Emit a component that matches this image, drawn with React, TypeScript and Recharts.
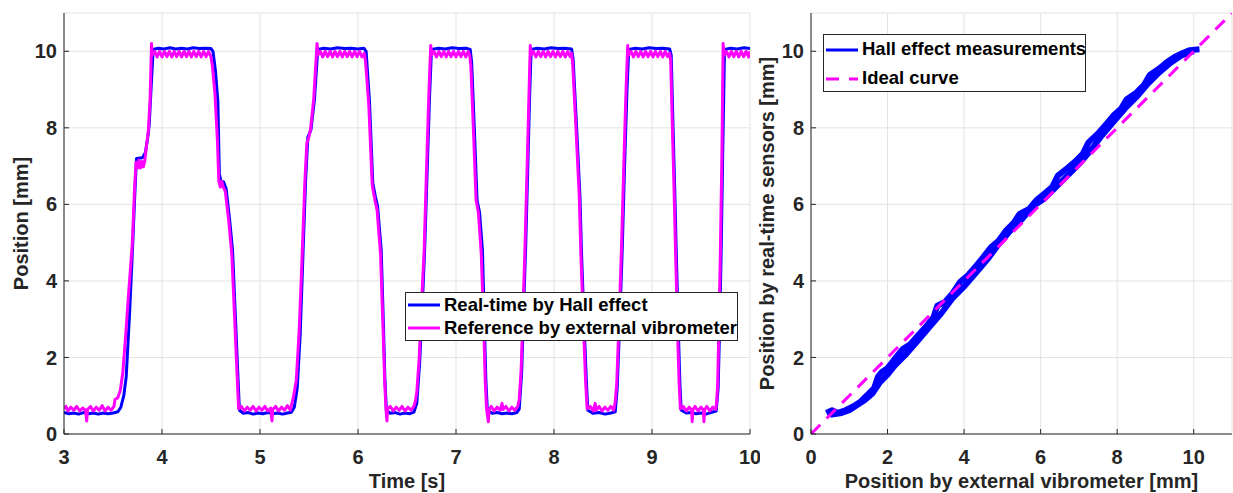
import { CartesianGrid, Legend, Line, LineChart, XAxis, YAxis } from "recharts"

const FONT = "'Liberation Sans', Arial, Helvetica, sans-serif"
const INK = "#262626"
const GRID = "#e3e3e3"
const BLUE = "#0000ff"
const MAGENTA = "#ff00ff"

const timeTicks = [3, 4, 5, 6, 7, 8, 9, 10]
const posTicks = [0, 2, 4, 6, 8, 10]

// [time s, position mm] - real-time Hall effect trace
const hallTrace = [
  [3.0, 0.56], [3.05, 0.53], [3.1, 0.55], [3.15, 0.52], [3.2, 0.56], [3.25, 0.53], [3.3, 0.55], [3.35, 0.52], [3.4, 0.55], [3.45, 0.53], [3.5, 0.55],
  [3.55, 0.58], [3.58, 0.7], [3.61, 1.0], [3.635, 1.5], [3.67, 3.2], [3.7, 4.9], [3.725, 6.4], [3.74, 7.2], [3.8, 7.22], [3.83, 7.35], [3.855, 7.75], [3.87, 8.1], [3.89, 9.1], [3.91, 10.05],
  [3.96, 10.08], [4.02, 10.06], [4.08, 10.09], [4.14, 10.06], [4.2, 10.08], [4.26, 10.06], [4.32, 10.09], [4.38, 10.07], [4.44, 10.08], [4.5, 10.07],
  [4.52, 10.0], [4.545, 9.5], [4.57, 8.7], [4.585, 6.8], [4.6, 6.62], [4.63, 6.58], [4.655, 6.4], [4.69, 5.6], [4.72, 4.8], [4.75, 3.0], [4.775, 1.5], [4.79, 0.62],
  [4.83, 0.54], [4.88, 0.56], [4.93, 0.52], [4.98, 0.55], [5.03, 0.53], [5.08, 0.56], [5.13, 0.53], [5.18, 0.55], [5.23, 0.52], [5.28, 0.55], [5.32, 0.57],
  [5.35, 0.7], [5.38, 1.2], [5.41, 2.6], [5.44, 4.8], [5.465, 6.6], [5.488, 7.75], [5.52, 7.95], [5.556, 8.75], [5.575, 9.5], [5.59, 10.05],
  [5.65, 10.08], [5.72, 10.06], [5.79, 10.09], [5.86, 10.07], [5.93, 10.08], [6.0, 10.06], [6.06, 10.08],
  [6.083, 10.0], [6.117, 8.7], [6.151, 6.55], [6.178, 6.2], [6.2, 5.95], [6.237, 4.8], [6.26, 2.8], [6.275, 1.4], [6.29, 0.62],
  [6.33, 0.54], [6.38, 0.56], [6.43, 0.52], [6.48, 0.55], [6.53, 0.53], [6.57, 0.57],
  [6.6, 0.8], [6.63, 1.9], [6.66, 3.6], [6.68, 4.8], [6.71, 7.2], [6.73, 8.8], [6.75, 10.05],
  [6.82, 10.08], [6.89, 10.06], [6.96, 10.09], [7.03, 10.07], [7.1, 10.08], [7.145, 10.05],
  [7.16, 9.7], [7.19, 7.8], [7.215, 6.1], [7.24, 5.8], [7.27, 4.8], [7.29, 2.8], [7.305, 1.4], [7.32, 0.62],
  [7.37, 0.54], [7.42, 0.56], [7.47, 0.53], [7.52, 0.55], [7.57, 0.53], [7.62, 0.56],
  [7.645, 0.65], [7.67, 1.6], [7.69, 3.3], [7.71, 4.8], [7.735, 7.2], [7.752, 8.9], [7.767, 10.05],
  [7.83, 10.08], [7.9, 10.06], [7.97, 10.09], [8.04, 10.07], [8.11, 10.08], [8.18, 10.06],
  [8.195, 9.8], [8.225, 8.3], [8.25, 7.0], [8.265, 6.2], [8.28, 4.8], [8.305, 3.0], [8.33, 1.4], [8.345, 0.62],
  [8.4, 0.54], [8.46, 0.56], [8.52, 0.52], [8.58, 0.55], [8.625, 0.58],
  [8.645, 1.2], [8.67, 2.9], [8.696, 4.8], [8.72, 7.0], [8.745, 9.0], [8.763, 10.05],
  [8.83, 10.08], [8.9, 10.06], [8.97, 10.09], [9.04, 10.07], [9.11, 10.08], [9.18, 10.06],
  [9.196, 9.9], [9.215, 8.0], [9.232, 6.4], [9.247, 4.8], [9.27, 2.6], [9.285, 1.3], [9.298, 0.62],
  [9.35, 0.55], [9.4, 0.56], [9.45, 0.53], [9.5, 0.55], [9.55, 0.52], [9.6, 0.56], [9.655, 0.6],
  [9.675, 1.2], [9.69, 2.8], [9.706, 4.8], [9.722, 7.4], [9.74, 10.05],
  [9.8, 10.08], [9.87, 10.06], [9.94, 10.09], [10.0, 10.07],
]

// [time s, position mm] - reference by external vibrometer
const refTrace = [
  [3.0, 0.66], [3.02, 0.72], [3.04, 0.6], [3.07, 0.7], [3.1, 0.62], [3.13, 0.72], [3.16, 0.6], [3.19, 0.68], [3.22, 0.62], [3.232, 0.34], [3.24, 0.64],
  [3.27, 0.72], [3.3, 0.6], [3.33, 0.7], [3.36, 0.62], [3.39, 0.74], [3.42, 0.6], [3.45, 0.7], [3.48, 0.62], [3.51, 0.72],
  [3.52, 0.9], [3.55, 0.95], [3.575, 1.15], [3.6, 1.6], [3.63, 2.6], [3.66, 3.7], [3.695, 4.9], [3.72, 6.4], [3.735, 7.1], [3.75, 6.95], [3.765, 7.15],
  [3.78, 6.95], [3.795, 7.12], [3.81, 6.98], [3.825, 7.15], [3.84, 7.5], [3.86, 7.9], [3.878, 8.7], [3.893, 10.2], [3.9, 9.9],
  [3.925, 10.0], [3.95, 9.85], [3.975, 10.0], [4.0, 9.85], [4.025, 10.0], [4.05, 9.86], [4.075, 10.0], [4.1, 9.85], [4.125, 10.0], [4.15, 9.86],
  [4.175, 10.0], [4.2, 9.85], [4.225, 10.0], [4.25, 9.86], [4.275, 10.0], [4.3, 9.85], [4.325, 10.0], [4.35, 9.86], [4.375, 10.0], [4.4, 9.85],
  [4.425, 10.0], [4.45, 9.86], [4.475, 10.0], [4.5, 9.85],
  [4.515, 9.6], [4.54, 8.9], [4.565, 7.7], [4.58, 6.6], [4.595, 6.45], [4.61, 6.6], [4.625, 6.45], [4.645, 6.35], [4.68, 5.6], [4.712, 4.7], [4.74, 3.1], [4.765, 1.6], [4.782, 0.66],
  [4.81, 0.72], [4.84, 0.6], [4.87, 0.7], [4.9, 0.62], [4.93, 0.72], [4.96, 0.6], [4.99, 0.7], [5.02, 0.62], [5.05, 0.72], [5.08, 0.6], [5.11, 0.68],
  [5.122, 0.34], [5.13, 0.64], [5.16, 0.72], [5.19, 0.6], [5.22, 0.7], [5.25, 0.62], [5.28, 0.74], [5.31, 0.62], [5.325, 0.8],
  [5.34, 0.95], [5.37, 1.4], [5.4, 2.7], [5.432, 4.8], [5.458, 6.6], [5.478, 7.6], [5.495, 7.72], [5.515, 7.95], [5.548, 8.75], [5.568, 9.6], [5.582, 10.2], [5.592, 9.9],
  [5.615, 10.0], [5.64, 9.85], [5.665, 10.0], [5.69, 9.86], [5.715, 10.0], [5.74, 9.85], [5.765, 10.0], [5.79, 9.86], [5.815, 10.0], [5.84, 9.85],
  [5.865, 10.0], [5.89, 9.86], [5.915, 10.0], [5.94, 9.85], [5.965, 10.0], [5.99, 9.86], [6.015, 10.0], [6.04, 9.85], [6.065, 9.95],
  [6.078, 9.7], [6.11, 8.6], [6.145, 6.5], [6.172, 6.12], [6.195, 5.85], [6.23, 4.7], [6.255, 2.8], [6.272, 1.4], [6.285, 0.66], [6.295, 0.34], [6.302, 0.66],
  [6.33, 0.72], [6.36, 0.6], [6.39, 0.7], [6.42, 0.62], [6.45, 0.72], [6.48, 0.6], [6.51, 0.7], [6.54, 0.62], [6.57, 0.72],
  [6.585, 0.85], [6.6, 1.1], [6.625, 2.0], [6.65, 3.5], [6.675, 4.8], [6.7, 7.0], [6.722, 8.8], [6.742, 10.15], [6.752, 9.9],
  [6.775, 10.0], [6.8, 9.85], [6.825, 10.0], [6.85, 9.86], [6.875, 10.0], [6.9, 9.85], [6.925, 10.0], [6.95, 9.86], [6.975, 10.0], [7.0, 9.85],
  [7.025, 10.0], [7.05, 9.86], [7.075, 10.0], [7.1, 9.85], [7.125, 10.0], [7.14, 9.9],
  [7.152, 9.6], [7.18, 7.8], [7.205, 6.1], [7.228, 5.8], [7.258, 4.7], [7.283, 2.8], [7.298, 1.4], [7.312, 0.66], [7.33, 0.32], [7.338, 0.64],
  [7.36, 0.72], [7.39, 0.6], [7.42, 0.7], [7.45, 0.62], [7.47, 0.8], [7.48, 0.64], [7.51, 0.72], [7.54, 0.6], [7.57, 0.7], [7.6, 0.62], [7.63, 0.72],
  [7.645, 0.9], [7.665, 1.7], [7.685, 3.3], [7.703, 4.8], [7.728, 7.2], [7.745, 8.9], [7.758, 10.15], [7.768, 9.9],
  [7.79, 10.0], [7.815, 9.85], [7.84, 10.0], [7.865, 9.86], [7.89, 10.0], [7.915, 9.85], [7.94, 10.0], [7.965, 9.86], [7.99, 10.0], [8.015, 9.85],
  [8.04, 10.0], [8.065, 9.86], [8.09, 10.0], [8.115, 9.85], [8.14, 10.0], [8.165, 9.86], [8.18, 9.95],
  [8.19, 9.7], [8.218, 8.3], [8.243, 7.0], [8.258, 6.2], [8.273, 4.8], [8.298, 3.0], [8.322, 1.4], [8.338, 0.66],
  [8.37, 0.72], [8.4, 0.6], [8.42, 0.8], [8.43, 0.62], [8.46, 0.72], [8.49, 0.6], [8.52, 0.7], [8.55, 0.62], [8.58, 0.72], [8.61, 0.62],
  [8.625, 0.85], [8.64, 1.3], [8.663, 2.9], [8.688, 4.8], [8.712, 7.0], [8.735, 9.0], [8.752, 10.15], [8.762, 9.9],
  [8.785, 10.0], [8.81, 9.85], [8.835, 10.0], [8.86, 9.86], [8.885, 10.0], [8.91, 9.85], [8.935, 10.0], [8.96, 9.86], [8.985, 10.0], [9.01, 9.85],
  [9.035, 10.0], [9.06, 9.86], [9.085, 10.0], [9.11, 9.85], [9.135, 10.0], [9.16, 9.86], [9.18, 9.95],
  [9.19, 9.8], [9.208, 8.0], [9.225, 6.4], [9.24, 4.8], [9.262, 2.6], [9.277, 1.3], [9.29, 0.66],
  [9.32, 0.72], [9.35, 0.6], [9.38, 0.7], [9.405, 0.62], [9.41, 0.32], [9.418, 0.64], [9.44, 0.72], [9.47, 0.6], [9.5, 0.7], [9.525, 0.62],
  [9.53, 0.32], [9.538, 0.64], [9.56, 0.72], [9.59, 0.6], [9.62, 0.7], [9.65, 0.64],
  [9.66, 0.85], [9.67, 1.3], [9.683, 2.8], [9.698, 4.8], [9.714, 7.4], [9.726, 10.2], [9.736, 9.9],
  [9.76, 10.0], [9.785, 9.85], [9.81, 10.0], [9.835, 9.86], [9.86, 10.0], [9.885, 9.85], [9.91, 10.0], [9.935, 9.86], [9.96, 10.0], [9.985, 9.85], [10.0, 10.0],
]

// [vibrometer mm, hall mm] - rising branch
const sweepUp = [
  [0.4, 0.55], [0.55, 0.62], [0.7, 0.55], [0.9, 0.62], [1.1, 0.72], [1.3, 0.85], [1.5, 1.05], [1.65, 1.2], [1.75, 1.5], [1.85, 1.62], [2.0, 1.72],
  [2.2, 1.98], [2.4, 2.22], [2.6, 2.35], [2.8, 2.58], [3.0, 2.8], [3.2, 3.05], [3.3, 3.35], [3.5, 3.45], [3.7, 3.68], [3.9, 3.98], [4.1, 4.15],
  [4.3, 4.38], [4.5, 4.62], [4.7, 4.88], [4.9, 5.05], [5.1, 5.32], [5.3, 5.52], [5.45, 5.75], [5.7, 5.88], [5.9, 6.12], [6.1, 6.28], [6.3, 6.45],
  [6.45, 6.75], [6.7, 6.95], [6.9, 7.12], [7.1, 7.32], [7.25, 7.62], [7.5, 7.85], [7.7, 8.08], [7.9, 8.32], [8.1, 8.5], [8.25, 8.75], [8.5, 8.92],
  [8.7, 9.12], [8.85, 9.38], [9.1, 9.55], [9.3, 9.72], [9.5, 9.85], [9.7, 9.95], [9.9, 10.03], [10.15, 10.05],
]

// [vibrometer mm, hall mm] - falling branch
const sweepDown = [
  [0.5, 0.5], [0.8, 0.55], [1.0, 0.62], [1.2, 0.75], [1.4, 0.88], [1.6, 1.05], [1.8, 1.35], [2.0, 1.55], [2.2, 1.8], [2.5, 2.1], [2.8, 2.45],
  [3.1, 2.8], [3.4, 3.15], [3.7, 3.55], [4.0, 3.85], [4.3, 4.2], [4.6, 4.55], [4.9, 4.95], [5.2, 5.3], [5.5, 5.6], [5.8, 5.95], [6.1, 6.15],
  [6.4, 6.45], [6.7, 6.75], [7.0, 7.05], [7.3, 7.4], [7.6, 7.8], [7.9, 8.15], [8.2, 8.5], [8.5, 8.8], [8.8, 9.15], [9.1, 9.45], [9.4, 9.7],
  [9.7, 9.9], [10.0, 10.0],
]

const idealCurve = [[0, 0], [11, 11]]

const leftLegend = [
  { label: "Real-time by Hall effect", color: BLUE },
  { label: "Reference by external vibrometer", color: MAGENTA },
]
const rightLegend = [
  { label: "Hall effect measurements", color: BLUE },
  { label: "Ideal curve", color: MAGENTA, dash: "13 10" },
]

const pts = (arr: number[][]) => arr.map(([x, y]) => ({ x, y }))

const tickStyle = { fill: INK, fontSize: 20, fontWeight: 700, fontFamily: FONT }
const labelStyle: any = { fill: INK, fontSize: 20, fontWeight: 700, fontFamily: FONT, textAnchor: "middle" }

const LegendBox = ({ items, width, height, rowHeight, padTop }: any) => (
  <div
    style={{
      boxSizing: "border-box", width, height, border: `1px solid ${INK}`, background: "#fff", paddingTop: padTop,
      fontFamily: FONT, fontWeight: 700, fontSize: 18.5, color: "#000", lineHeight: 1,
    }}
  >
    {items.map((it: any) => (
      <div key={it.label} style={{ display: "flex", alignItems: "center", height: rowHeight, whiteSpace: "nowrap" }}>
        <svg width={32} height={8} style={{ marginLeft: 2, marginRight: 4, flex: "none" }}>
          <line x1={0} y1={4} x2={32} y2={4} stroke={it.color} strokeWidth={3} strokeDasharray={it.dash} />
        </svg>
        <span>{it.label}</span>
      </div>
    ))}
  </div>
)

const boxAxes = (domain: number[], ticksX: number[], ticksY: number[], yDomain: number[]) => [
  <XAxis key="top" xAxisId="top" orientation="top" type="number" domain={domain} ticks={ticksX} height={0}
    tick={false} tickSize={-5} stroke={INK} allowDataOverflow />,
  <YAxis key="right" yAxisId="right" orientation="right" type="number" domain={yDomain} ticks={ticksY} width={0}
    tick={false} tickSize={-5} stroke={INK} allowDataOverflow />,
]

const App = () => {
  return (
    <div style={{ position: "absolute", left: 0, top: 0, width: 1233, height: 493, background: "#fff" }}>
      <div style={{ position: "absolute", left: 0, top: 0 }}>
        <LineChart width={760} height={493} margin={{ top: 13, right: 10, bottom: 0, left: 0 }}>
          <CartesianGrid stroke={GRID} strokeWidth={1} />
          <XAxis dataKey="x" type="number" domain={[3, 10]} ticks={timeTicks} allowDataOverflow height={59}
            stroke={INK} tickSize={-5} tickMargin={21} tick={tickStyle}
            label={{ value: "Time [s]", position: "insideBottom", offset: 5.5, style: labelStyle }} />
          <YAxis dataKey="y" type="number" domain={[0, 11]} ticks={posTicks} allowDataOverflow width={64}
            stroke={INK} tickSize={-5} tickMargin={12} tick={tickStyle}
            label={{ value: "Position [mm]", angle: -90, position: "insideLeft", offset: 21, style: labelStyle }} />
          {boxAxes([3, 10], timeTicks, posTicks, [0, 11])}
          <Line data={pts(hallTrace)} dataKey="y" type="linear" stroke={BLUE} strokeWidth={3} dot={false}
            strokeLinejoin="round" isAnimationActive={false} />
          <Line data={pts(refTrace)} dataKey="y" type="linear" stroke={MAGENTA} strokeWidth={3} dot={false}
            strokeLinejoin="round" isAnimationActive={false} />
          <Legend layout="vertical" align="center" verticalAlign="middle"
            wrapperStyle={{ left: 405, top: 292, width: "auto", height: "auto" }}
            content={() => <LegendBox items={leftLegend} width={333} height={49} rowHeight={22.5} padTop={1} />} />
        </LineChart>
      </div>
      <div style={{ position: "absolute", left: 745, top: 0 }}>
        <LineChart width={488} height={493} margin={{ top: 13, right: 1, bottom: 0, left: 0 }}>
          <CartesianGrid stroke={GRID} strokeWidth={1} />
          <XAxis dataKey="x" type="number" domain={[0, 11]} ticks={posTicks} allowDataOverflow height={59}
            stroke={INK} tickSize={-5} tickMargin={21} tick={tickStyle}
            label={{ value: "Position by external vibrometer [mm]", position: "insideBottom", offset: 5.5, style: labelStyle }} />
          <YAxis dataKey="y" type="number" domain={[0, 11]} ticks={posTicks} allowDataOverflow width={66}
            stroke={INK} tickSize={-5} tickMargin={12} tick={tickStyle}
            label={{ value: "Position by real-time sensors [mm]", angle: -90, position: "insideLeft", offset: 21.5, style: labelStyle }} />
          {boxAxes([0, 11], posTicks, posTicks, [0, 11])}
          <Line data={pts(sweepUp)} dataKey="y" type="linear" stroke={BLUE} strokeWidth={6} dot={false}
            strokeLinejoin="round" isAnimationActive={false} />
          <Line data={pts(sweepDown)} dataKey="y" type="linear" stroke={BLUE} strokeWidth={6} dot={false}
            strokeLinejoin="round" isAnimationActive={false} />
          <Line data={pts(idealCurve)} dataKey="y" type="linear" stroke={MAGENTA} strokeWidth={3} dot={false}
            strokeDasharray="13 9" isAnimationActive={false} />
          <Legend layout="vertical" align="center" verticalAlign="middle"
            wrapperStyle={{ left: 78, top: 34, width: "auto", height: "auto" }}
            content={() => <LegendBox items={rightLegend} width={263} height={58} rowHeight={29} padTop={0} />} />
        </LineChart>
      </div>
    </div>
  )
}

export default App
